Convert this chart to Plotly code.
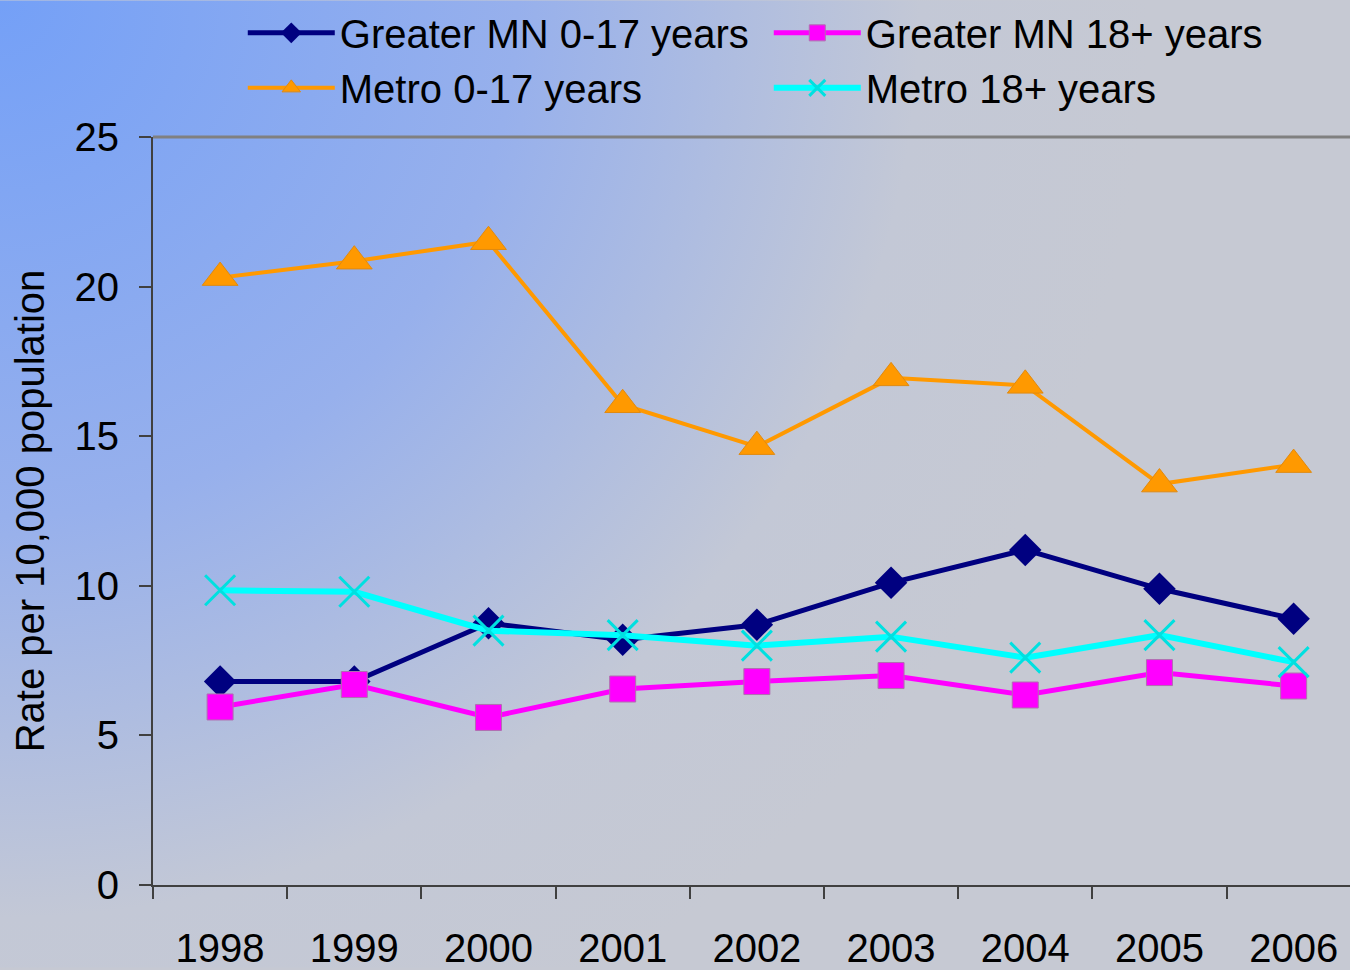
import base64
import plotly.graph_objects as go

# Dados
anos = ["1998", "1999", "2000", "2001", "2002", "2003", "2004", "2005", "2006"]
greater_0_17 = [6.8, 6.8, 8.75, 8.2, 8.7, 10.1, 11.2, 9.9, 8.9]
greater_18 = [5.95, 6.7, 5.6, 6.55, 6.8, 7.0, 6.35, 7.1, 6.65]
metro_0_17 = [20.3, 20.85, 21.5, 16.05, 14.65, 16.95, 16.7, 13.4, 14.05]
metro_18 = [9.85, 9.8, 8.5, 8.35, 8.0, 8.3, 7.6, 8.35, 7.45]

W, H = 1350, 970
ML, MR, MT, MB = 153, 0, 137, 83
pw, ph = W - ML - MR, H - MT - MB

# Fundo com gradiente radial (azul no canto superior esquerdo)
svg = f"""<svg xmlns='http://www.w3.org/2000/svg' width='{W}' height='{H}'>
<defs><radialGradient id='g' gradientUnits='userSpaceOnUse' cx='0' cy='0' r='1150'>
<stop offset='0' stop-color='#74a0f7'/>
<stop offset='0.45' stop-color='#97b0ec'/>
<stop offset='0.8' stop-color='#c3c8d6'/>
<stop offset='1' stop-color='#c6c9d3'/>
</radialGradient></defs>
<rect width='{W}' height='{H}' fill='url(#g)'/></svg>"""
fundo = "data:image/svg+xml;base64," + base64.b64encode(svg.encode()).decode()

fig = go.Figure()

fig.add_trace(go.Scatter(
    x=anos, y=greater_0_17, name="Greater MN 0-17 years", mode="lines+markers",
    line=dict(color="#000080", width=5),
    marker=dict(symbol="diamond", size=25, color="#000080"),
))
fig.add_trace(go.Scatter(
    x=anos, y=greater_18, name="Greater MN 18+ years", mode="lines+markers",
    line=dict(color="#ff00ff", width=5),
    marker=dict(symbol="square", size=26, color="#ff00ff", line=dict(color="#b070b0", width=1)),
))
fig.add_trace(go.Scatter(
    x=anos, y=metro_0_17, name="Metro 0-17 years", mode="lines+markers",
    line=dict(color="#ff9900", width=4),
    marker=dict(symbol="triangle-up", size=31, color="#ff9900", line=dict(color="#e08a10", width=1)),
))
fig.add_trace(go.Scatter(
    x=anos, y=metro_18, name="Metro 18+ years", mode="lines+markers",
    line=dict(color="#00ffff", width=6),
    marker=dict(symbol="x-thin", size=30, line=dict(color="#00e0e0", width=3)),
))

fig.update_layout(
    width=W, height=H,
    margin=dict(l=ML, r=MR, t=MT, b=MB),
    paper_bgcolor="#c6c9d3",
    plot_bgcolor="rgba(0,0,0,0)",
    font=dict(family="Liberation Sans, Arial, sans-serif", color="black"),
    showlegend=True,
    legend=dict(
        orientation="h", x=0.075, y=1 + MT / ph, xanchor="left", yanchor="top",
        entrywidth=424, entrywidthmode="pixels",
        font=dict(size=40), bgcolor="rgba(0,0,0,0)", itemwidth=87,
    ),
    images=[dict(
        source=fundo, xref="paper", yref="paper",
        x=-ML / pw, y=1 + MT / ph, sizex=W / pw, sizey=H / ph,
        xanchor="left", yanchor="top", sizing="stretch", layer="below",
    )],
    shapes=[dict(
        type="line", xref="paper", yref="paper", x0=0, x1=1, y0=1, y1=1,
        line=dict(color="#808080", width=3),
    )],
)

fig.update_xaxes(
    type="category", range=[-0.5, 8.42], tickson="boundaries",
    ticks="outside", ticklen=12, tickwidth=2, tickcolor="#404040",
    showline=True, linecolor="#404040", linewidth=2,
    showgrid=False, zeroline=False,
    tickfont=dict(size=40), ticklabelstandoff=27,
)
fig.update_yaxes(
    range=[0, 25], tickvals=[0, 5, 10, 15, 20, 25],
    ticks="outside", ticklen=12, tickwidth=2, tickcolor="#404040",
    showline=True, linecolor="#404040", linewidth=2,
    showgrid=False, zeroline=False,
    tickfont=dict(size=40), ticklabelstandoff=12,
    title=dict(text="Rate per 10,000 population", font=dict(size=40), standoff=18),
)

fig.write_html("out.html", config={"displayModeBar": False},
               post_script="document.body.style.margin='0';")
